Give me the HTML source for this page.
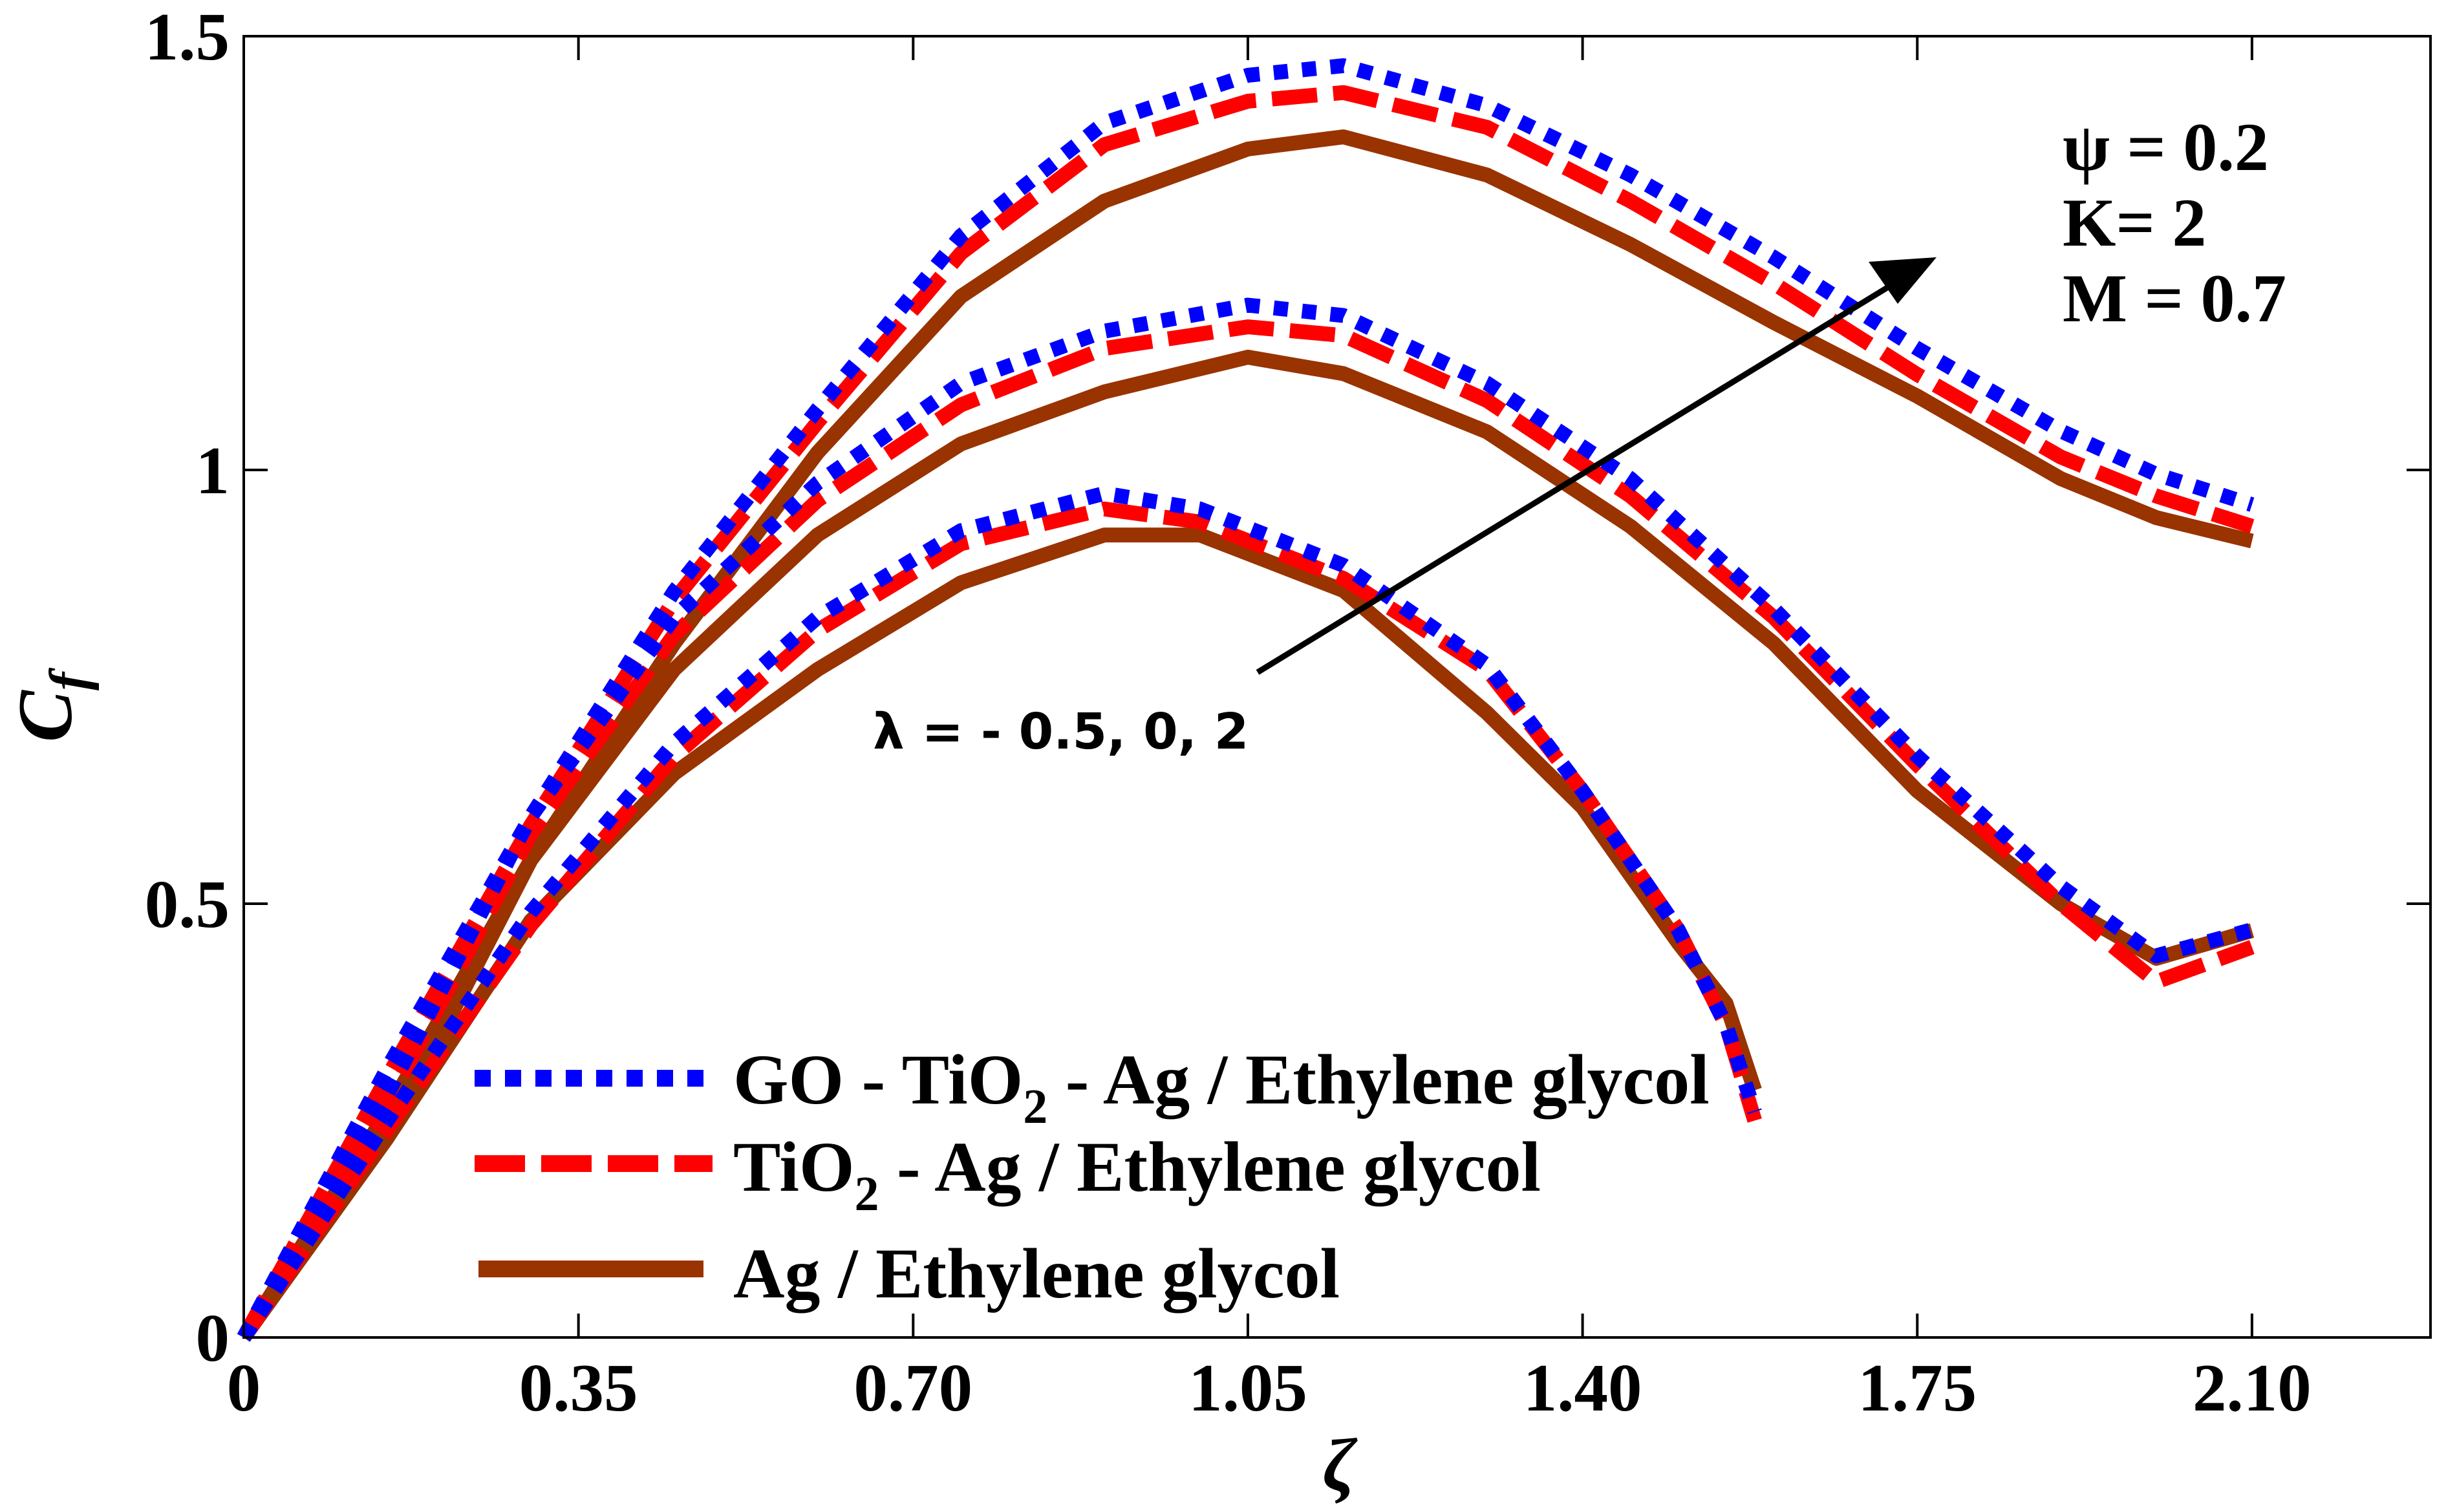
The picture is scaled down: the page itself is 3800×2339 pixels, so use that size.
<!DOCTYPE html>
<html><head><meta charset="utf-8"><style>
html,body{margin:0;padding:0;background:#fff}
svg{display:block}
text{font-family:"Liberation Serif",serif;font-weight:bold;fill:#000}
</style></head><body>
<svg id="chart" width="3800" height="2339" viewBox="0 0 3800 2339" xmlns="http://www.w3.org/2000/svg">
<g id="curves"></g>
<g id="axes"></g>
<g>
<line x1="1945" y1="1040" x2="2940" y2="432" stroke="#000" stroke-width="9"/>
<polygon points="2995,398 2890,405 2935,470" fill="#000"/>
</g>
<text x="1350" y="1158" style="font-family:'DejaVu Sans',sans-serif;font-size:77px">λ = - 0.5, 0, 2</text>
<text x="3190" y="263" font-size="106">ψ = 0.2</text>
<text x="3190" y="380" font-size="106">K= 2</text>
<text x="3190" y="497" font-size="106">M = 0.7</text>
<g>
<line x1="734" y1="1668" x2="1102" y2="1668" stroke="#0000ff" stroke-width="26" stroke-dasharray="25 22"/>
<text x="1134" y="1707" font-size="110">GO - TiO<tspan dy="30" font-size="76">2</tspan><tspan dy="-30"> - Ag / Ethylene glycol</tspan></text>
<line x1="734" y1="1800" x2="1102" y2="1800" stroke="#ff0000" stroke-width="26" stroke-dasharray="78 25"/>
<text x="1134" y="1842" font-size="110">TiO<tspan dy="30" font-size="76">2</tspan><tspan dy="-30"> - Ag / Ethylene glycol</tspan></text>
<line x1="740" y1="1963" x2="1088" y2="1963" stroke="#993300" stroke-width="26"/>
<text x="1134" y="2007" font-size="110">Ag / Ethylene glycol</text>
</g>
<text x="2071" y="2305" font-size="115" font-style="italic" text-anchor="middle">ζ</text>
<text transform="translate(110,1094) rotate(-90)" font-size="120" font-style="italic" text-anchor="middle">C<tspan dy="25" font-size="85">f</tspan></text>
</svg>
<script>
const xTicks=[0,0.35,0.70,1.05,1.40,1.75,2.10];
const xTickLabels=["0","0.35","0.70","1.05","1.40","1.75","2.10"];
const yTicks=[0,0.5,1,1.5];
const yTickLabels=["0","0.5","1","1.5"];
const xHigh=[0,0.15,0.3,0.45,0.6,0.75,0.9,1.05,1.15,1.3,1.45,1.6,1.75,1.9,2.0,2.1];
const xLow=[0,0.15,0.3,0.45,0.6,0.75,0.9,1.0,1.15,1.3,1.4,1.5,1.55,1.58];
const topBlue=[0,0.31,0.60,0.86,1.07,1.27,1.40,1.455,1.466,1.42,1.34,1.245,1.14,1.045,0.995,0.96];
const topRed=[0,0.30,0.59,0.85,1.055,1.25,1.375,1.425,1.435,1.395,1.31,1.215,1.11,1.015,0.97,0.935];
const topBrown=[0,0.23,0.55,0.80,1.02,1.20,1.31,1.37,1.384,1.34,1.26,1.17,1.085,0.99,0.945,0.918];
const midBlue=[0,0.28,0.60,0.83,0.985,1.10,1.16,1.19,1.178,1.10,0.99,0.84,0.67,0.52,0.44,0.47];
const midRed=[0,0.27,0.58,0.81,0.965,1.075,1.14,1.165,1.155,1.08,0.97,0.83,0.66,0.50,0.41,0.45];
const midBrown=[0,0.26,0.55,0.77,0.925,1.03,1.09,1.13,1.111,1.044,0.935,0.80,0.63,0.50,0.437,0.469];
const lowBlue=[0,0.25,0.49,0.685,0.83,0.93,0.973,0.955,0.89,0.775,0.63,0.47,0.36,0.26];
const lowRed=[0,0.24,0.475,0.67,0.815,0.915,0.955,0.94,0.875,0.77,0.63,0.47,0.36,0.25];
const lowBrown=[0,0.23,0.48,0.65,0.77,0.87,0.925,0.925,0.861,0.72,0.611,0.455,0.385,0.285];

const L=377,R=3759,T=56,B=2069,X_MAX=(R-L)/1479,Y_MAX=1.5;
function sx(v){return L+v/X_MAX*(R-L);}
function sy(v){return B-v/Y_MAX*(B-T);}
const NS="http://www.w3.org/2000/svg";
const curves=document.getElementById('curves');
const axes=document.getElementById('axes');
const series=[
 ["lambda-2-ag",xHigh,topBrown,"#993300",null],
 ["lambda-0-ag",xHigh,midBrown,"#993300",null],
 ["lambda-neg05-ag",xLow,lowBrown,"#993300",null],
 ["lambda-2-tio2-ag",xHigh,topRed,"#ff0000","70 25"],
 ["lambda-0-tio2-ag",xHigh,midRed,"#ff0000","70 25"],
 ["lambda-neg05-tio2-ag",xLow,lowRed,"#ff0000","70 25"],
 ["lambda-2-go-tio2-ag",xHigh,topBlue,"#0000ff","22 22"],
 ["lambda-0-go-tio2-ag",xHigh,midBlue,"#0000ff","22 22"],
 ["lambda-neg05-go-tio2-ag",xLow,lowBlue,"#0000ff","22 22"]
];
series.forEach(s=>{
  const p=document.createElementNS(NS,'path');
  p.setAttribute('d',s[1].map((x,i)=>(i?'L':'M')+sx(x).toFixed(1)+','+sy(s[2][i]).toFixed(1)).join(''));
  p.setAttribute('fill','none');p.setAttribute('stroke',s[3]);p.setAttribute('stroke-width','23');
  p.setAttribute('stroke-linejoin','round');
  if(s[4])p.setAttribute('stroke-dasharray',s[4]);
  
  
  curves.appendChild(p);
});
const frame=document.createElementNS(NS,'rect');
frame.setAttribute('x',L);frame.setAttribute('y',T);frame.setAttribute('width',R-L);frame.setAttribute('height',B-T);
frame.setAttribute('fill','none');frame.setAttribute('stroke','#000');frame.setAttribute('stroke-width','4');


axes.appendChild(frame);
function line(x1,y1,x2,y2,name){
  const l=document.createElementNS(NS,'line');
  l.setAttribute('x1',x1);l.setAttribute('y1',y1);l.setAttribute('x2',x2);l.setAttribute('y2',y2);
  l.setAttribute('stroke','#000');l.setAttribute('stroke-width','4');
  
  
  axes.appendChild(l);
}
function label(x,y,t,anchor,name){
  const e=document.createElementNS(NS,'text');
  e.setAttribute('x',x);e.setAttribute('y',y);e.setAttribute('font-size','105');e.setAttribute('text-anchor',anchor);
  e.textContent=t;
  
  
  axes.appendChild(e);
}
xTicks.forEach((v,i)=>{
  const x=sx(v);
  line(x,B,x,B-37,'x-tick');line(x,T,x,T+37,'x-tick-top');
  label(x,2182,xTickLabels[i],'middle','x-tick-label');
});
yTicks.forEach((v,i)=>{
  const y=sy(v);
  line(L,y,L+37,y,'y-tick');line(R,y,R-37,y,'y-tick-right');
  label(355,y+36,yTickLabels[i],'end','y-tick-label');
});
</script>
</body></html>
